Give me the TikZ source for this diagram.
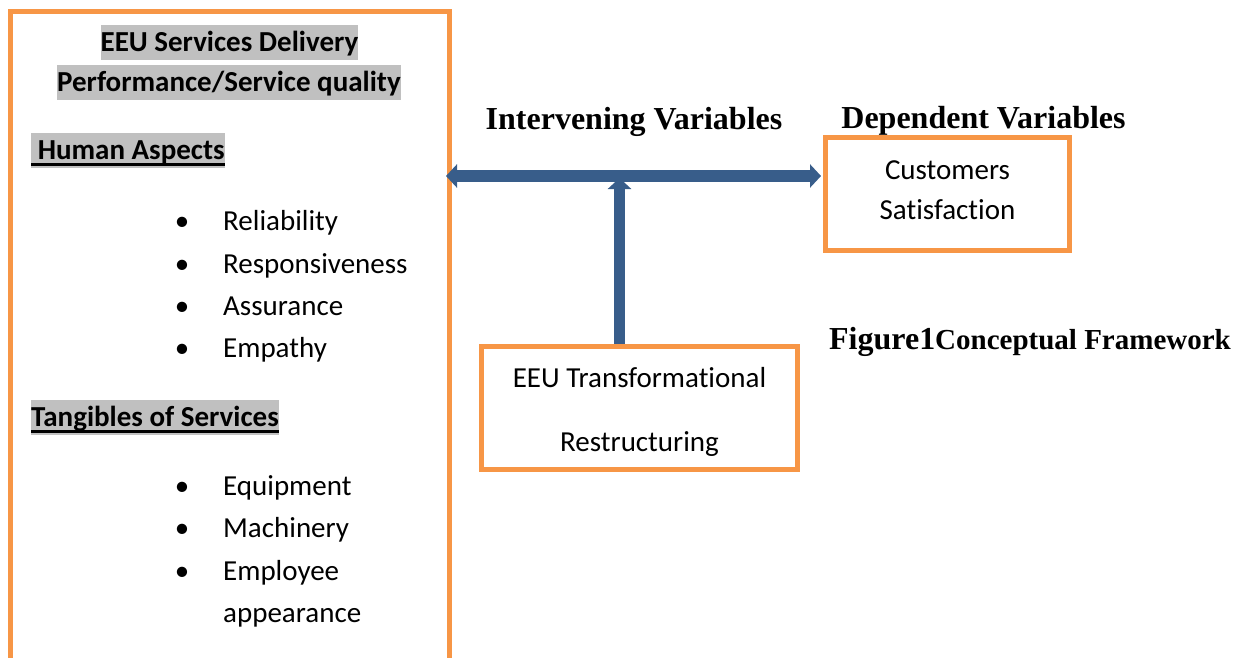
\documentclass[tikz,border=0pt]{standalone}
\usepackage{fontspec}
\setmainfont{Carlito}[RawFeature={-liga;-clig;-dlig}]
\newfontfamily\serifhead{Liberation Serif}
\usepackage{tikz}
\usetikzlibrary{arrows.meta,positioning}
\definecolor{boxorange}{HTML}{F79646}
\definecolor{arrowblue}{HTML}{385D8A}
\definecolor{hlgray}{HTML}{C0C0C0}
\newcommand{\bodysize}{\fontsize{29}{35}\selectfont}
\newcommand{\ulgray}[1]{\setbox0\hbox{#1}\rlap{\rule[-6pt]{\wd0}{2.7pt}}\box0}
\tikzset{
  frame/.style={rectangle, draw=boxorange, line width=5pt, inner sep=0pt},
  hilite/.style={rectangle, fill=hlgray, anchor=base, inner sep=0pt, text height=27pt, text depth=8pt, font=\bodysize\bfseries},
  item/.style={anchor=base west, inner sep=0pt, font=\bodysize},
  serifbf/.style={anchor=base, inner sep=0pt, font=\serifhead\bfseries\fontsize{32}{38}\selectfont},
  bigarrow/.style={draw=arrowblue, line width=11pt, -{Triangle[width=23pt,length=11pt]}},
}
\begin{document}
\begin{tikzpicture}[x=1pt,y=-1pt]
  \useasboundingbox (0,0) rectangle (1237,658);
  % independent variables
  \node[frame, minimum width=439.5pt, minimum height=708pt] (quality) at (229.75,366) {};
  \node[hilite] (head1) at (229.5,51.7) {EEU Services Delivery};
  \node[hilite] (head2) at (229,91.7) {Performance/Service quality};
  \node[hilite, anchor=base west] (human) at (31,160) {\ulgray{\ Human Aspects}};
  \foreach \t/\y [count=\i] in {Reliability/230, Responsiveness/273, Assurance/315, Empathy/357}
    \node[item] (hum\i) at (223,\y) {\llap{\textbullet\hspace{33.8pt}}\t};
  \node[hilite, anchor=base west] (tangib) at (31,426.7) {\ulgray{Tangibles of Services}};
  \foreach \t/\y [count=\i] in {Equipment/495, Machinery/537, Employee/580}
    \node[item] (tan\i) at (223,\y) {\llap{\textbullet\hspace{33.8pt}}\t};
  \node[item] (tan4) at ([yshift=-42pt]tan3.base west) {appearance};
  % intervening and dependent
  \node[serifbf] (interv) at (634,130) {Intervening Variables};
  \node[serifbf] (depend) at (983.5,129) {Dependent Variables};
  \node[frame, align=center, minimum width=244pt, minimum height=113pt, font=\fontsize{29}{40}\selectfont] (satis) at (947.5,194) {Customers\\Satisfaction\rule[-8pt]{0pt}{8pt}};
  \node[frame, align=center, minimum width=316pt, minimum height=123pt, font=\fontsize{29}{64}\selectfont] (trans) at (639.5,408) {\rule{0pt}{28pt}EEU Transformational\\Restructuring};
  \node[serifbf] (figcap) at (1030,349) {Figure1{\fontsize{29}{35}\selectfont Conceptual Framework}};
  % arrows
  \coordinate (join) at (619.5,176);
  \draw[bigarrow] (trans.north -| join) -- ([yshift=-2pt]join);
  \draw[bigarrow, {Triangle[width=23pt,length=11pt]}-{Triangle[width=23pt,length=11pt]}] ([xshift=-6pt]quality.east |- join) -- ([xshift=-2pt]satis.west |- join);
\end{tikzpicture}
\end{document}
